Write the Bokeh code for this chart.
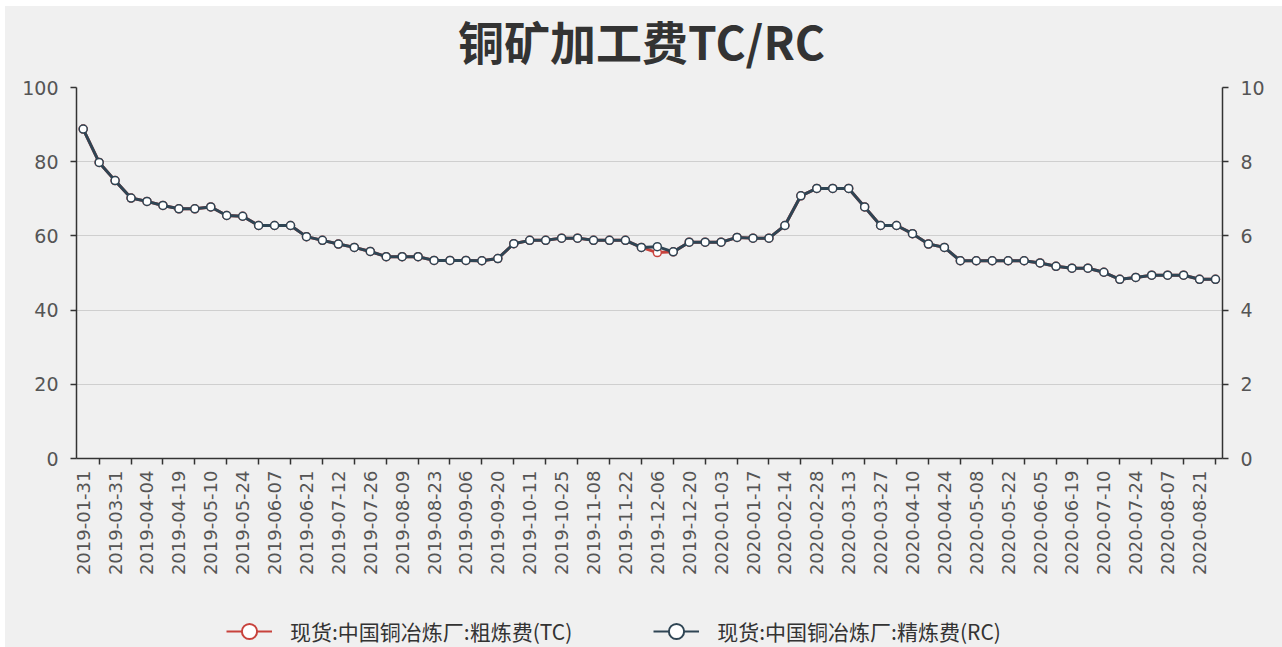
import math
from bokeh.plotting import figure
from bokeh.layouts import column
from bokeh.models import Range1d, LinearAxis, FixedTicker, Legend, LegendItem, Label
from bokeh.embed import file_html
from bokeh.resources import INLINE

title_text = "铜矿加工费TC/RC"

# x-axis labels (shown at every other data point)
date_labels = [
    "2019-01-31", "2019-03-31", "2019-04-04", "2019-04-19", "2019-05-10", "2019-05-24",
    "2019-06-07", "2019-06-21", "2019-07-12", "2019-07-26", "2019-08-09", "2019-08-23",
    "2019-09-06", "2019-09-20", "2019-10-11", "2019-10-25", "2019-11-08", "2019-11-22",
    "2019-12-06", "2019-12-20", "2020-01-03", "2020-01-17", "2020-02-14", "2020-02-28",
    "2020-03-13", "2020-03-27", "2020-04-10", "2020-04-24", "2020-05-08", "2020-05-22",
    "2020-06-05", "2020-06-19", "2020-07-10", "2020-07-24", "2020-08-07", "2020-08-21",
]

# 现货:中国铜冶炼厂:粗炼费(TC)  (left axis)
tc = [
    88.8, 79.8, 74.9, 70.2, 69.3, 68.2, 67.3, 67.3, 67.8, 65.5, 65.3, 62.8,
    62.8, 62.8, 59.8, 58.8, 57.8, 56.9, 55.8, 54.4, 54.4, 54.4, 53.4, 53.4,
    53.4, 53.3, 53.9, 57.9, 58.8, 58.8, 59.4, 59.4, 58.8, 58.8, 58.8, 56.9,
    55.5, 55.7, 58.3, 58.3, 58.3, 59.6, 59.4, 59.4, 62.8, 70.8, 72.8, 72.8,
    72.8, 67.8, 62.8, 62.8, 60.6, 57.8, 56.9, 53.3, 53.3, 53.3, 53.3, 53.3,
    52.7, 51.8, 51.3, 51.3, 50.2, 48.3, 48.8, 49.4, 49.4, 49.4, 48.3, 48.3,
]

# 现货:中国铜冶炼厂:精炼费(RC)  (right axis)
rc = [
    8.88, 7.98, 7.49, 7.02, 6.93, 6.82, 6.73, 6.73, 6.78, 6.55, 6.53, 6.28,
    6.28, 6.28, 5.98, 5.88, 5.78, 5.69, 5.58, 5.44, 5.44, 5.44, 5.34, 5.34,
    5.34, 5.33, 5.39, 5.79, 5.88, 5.88, 5.94, 5.94, 5.88, 5.88, 5.88, 5.69,
    5.71, 5.57, 5.83, 5.83, 5.83, 5.96, 5.94, 5.94, 6.28, 7.08, 7.28, 7.28,
    7.28, 6.78, 6.28, 6.28, 6.06, 5.78, 5.69, 5.33, 5.33, 5.33, 5.33, 5.33,
    5.27, 5.18, 5.13, 5.13, 5.02, 4.83, 4.88, 4.94, 4.94, 4.94, 4.83, 4.83,
]

series_names = ["现货:中国铜冶炼厂:粗炼费(TC)", "现货:中国铜冶炼厂:精炼费(RC)"]

left_ticks = [0, 20, 40, 60, 80, 100]
right_ticks = [0, 2, 4, 6, 8, 10]

TC_COLOR = "#c8423c"
RC_COLOR = "#2f4554"
BG = "#f0f0f0"
AX = "#333333"
FONT = "Noto Sans CJK SC"
W = 1277

n = len(tc)
x = list(range(n))


def strip(height):
    f = figure(
        width=W, height=height, output_backend="svg", toolbar_location=None,
        x_range=Range1d(0, 1), y_range=Range1d(0, 1),
        min_border_left=71, min_border_right=60, min_border_top=0, min_border_bottom=0,
        background_fill_color=BG, border_fill_color=BG, outline_line_color=None,
    )
    f.axis.visible = False
    f.grid.visible = False
    return f


# ---- title strip ----
tf = strip(66)
tf.add_layout(Label(
    x=565, y=33, x_units="screen", y_units="screen", text=title_text,
    text_align="center", text_baseline="middle",
    text_font=FONT, text_font_size="46px", text_font_style="bold", text_color="#333333",
))

# ---- main chart ----
p = figure(
    width=W, height=518, output_backend="svg", toolbar_location=None,
    x_range=Range1d(-0.42, n - 1 + 0.44), y_range=Range1d(0, 100),
    min_border_left=71, min_border_right=60, min_border_top=15, min_border_bottom=132,
    background_fill_color=BG, border_fill_color=BG, outline_line_color=None,
)
p.extra_y_ranges = {"rc": Range1d(0, 10)}

xa = p.xaxis[0]
xa.ticker = FixedTicker(ticks=list(range(0, n, 2)), minor_ticks=list(range(1, n, 2)))
xa.major_label_overrides = {i * 2: lab for i, lab in enumerate(date_labels)}
xa.major_label_orientation = math.pi / 2
xa.major_tick_line_color = None
xa.major_tick_out = 0
xa.major_tick_in = 0
xa.minor_tick_in = 0
xa.minor_tick_out = 6
xa.minor_tick_line_color = AX
xa.minor_tick_line_width = 1.5
xa.axis_line_color = AX
xa.axis_line_width = 1.5
xa.major_label_standoff = 6
xa.major_label_text_font = "DejaVu Sans"
xa.major_label_text_font_size = "18px"
xa.major_label_text_color = "#555555"

ya = p.yaxis[0]
ya.ticker = FixedTicker(ticks=left_ticks)
ya.minor_tick_line_color = None
ya.major_tick_in = 0
ya.major_tick_out = 6
ya.major_tick_line_color = AX
ya.major_tick_line_width = 1.5
ya.axis_line_color = AX
ya.axis_line_width = 1.5
ya.major_label_standoff = 12
ya.major_label_text_font = "DejaVu Sans"
ya.major_label_text_font_size = "19px"
ya.major_label_text_color = "#555555"

ra = LinearAxis(y_range_name="rc", ticker=FixedTicker(ticks=right_ticks))
ra.minor_tick_line_color = None
ra.major_tick_in = 0
ra.major_tick_out = 6
ra.major_tick_line_color = AX
ra.major_tick_line_width = 1.5
ra.axis_line_color = AX
ra.axis_line_width = 1.5
ra.major_label_standoff = 12
ra.major_label_text_font = "DejaVu Sans"
ra.major_label_text_font_size = "19px"
ra.major_label_text_color = "#555555"
p.add_layout(ra, "right")

p.xgrid.visible = False
p.ygrid.ticker = FixedTicker(ticks=left_ticks)
p.ygrid.grid_line_color = "#cfcfcf"
p.ygrid.grid_line_width = 1.2

p.line(x, tc, line_color=TC_COLOR, line_width=3)
p.scatter(x, tc, size=8, fill_color="white", line_color=TC_COLOR, line_width=1.5)
p.line(x, rc, y_range_name="rc", line_color=RC_COLOR, line_width=3)
p.scatter(x, rc, y_range_name="rc", size=8, fill_color="white",
          line_color=RC_COLOR, line_width=1.5)

# ---- legend strip ----
lf = strip(57)
items = []
for name, vals, col in zip(series_names, [tc, rc], [TC_COLOR, RC_COLOR]):
    # series data lies outside this strip's 0..1 view; only the legend glyphs show
    lr = lf.line(x, vals, line_color=col, line_width=2)
    sr = lf.scatter(x, vals, fill_color="white", line_color=col, line_width=2)
    items.append(LegendItem(label=name, renderers=[lr, sr]))

legend = Legend(
    items=items, location=(150, -3), orientation="horizontal",
    glyph_width=46, glyph_height=38, label_standoff=18, spacing=81,
    label_text_font=FONT, label_text_font_size="21px", label_text_color="#333333",
    label_height=38, padding=0, margin=0,
    border_line_color=None, background_fill_alpha=0,
)
lf.add_layout(legend)

layout = column(tf, p, lf, spacing=0, margin=(6, 0, 0, 5), styles={"background-color": BG})
open("out.html", "w").write(file_html(layout, INLINE))
